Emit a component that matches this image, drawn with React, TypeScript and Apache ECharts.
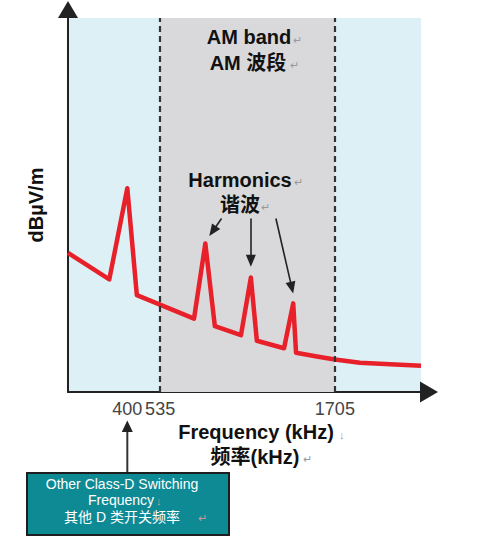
import React, { useEffect, useRef } from 'react';
import * as echarts from 'echarts';

// Schematic axis units (0..100 across the plot), as drawn in the original diagram
const curveX = [0, 11.7, 16.8, 19.5, 35.7, 38.9, 41.6, 49.0, 51.8, 53.5, 61.2, 63.8, 64.6, 70.5, 75.6, 82.7, 91.2, 100];
const curveY = [37.2, 30.1, 54.5, 25.9, 19.6, 39.7, 17.6, 15.2, 30.6, 13.7, 11.7, 23.7, 10.5, 9.5, 8.7, 7.8, 7.4, 7.0];

const tickLabels = ['400', '535', '1705'];
const tickValues = [16.8, 26.1, 75.6];

// AM band edges = 535 and 1705 ticks
const amBandEdges = [tickValues[1], tickValues[2]];

// Harmonic annotation arrows (from label to peak)
const arrowFrom = [[43.5, 46.4], [51.8, 46.4], [58.9, 46.4]];
const arrowTo = [[41.0, 43.0], [51.8, 35.1], [63.4, 27.9]];

const FONT = '"Liberation Sans", Arial, "Noto Sans CJK SC", sans-serif';

const txt = (text: string, x: number, y: number, size: number, weight: string, fill: string, align = 'center') => ({
  type: 'text',
  x,
  y,
  silent: true,
  z: 10,
  style: { text, fontSize: size, fontWeight: weight, fontFamily: FONT, fill, align, verticalAlign: 'middle' },
});

export default function App() {
  const ref = useRef<HTMLDivElement>(null);
  useEffect(() => {
    const chart = echarts.init(ref.current!, null, { renderer: 'svg' });
    const lineData = curveX.map((x, i) => [x, curveY[i]]);
    chart.setOption({
      animation: false,
      backgroundColor: '#ffffff',
      grid: {
        left: 68,
        top: 18,
        width: 353,
        height: 374,
        show: true,
        backgroundColor: '#dcf0f6',
        borderWidth: 0,
        containLabel: false,
        outerBoundsMode: 'none',
      },
      xAxis: {
        type: 'value',
        min: 0,
        max: 100,
        splitLine: { show: false },
        axisTick: { show: false },
        axisLine: {
          show: true,
          onZero: false,
          symbol: ['none', 'triangle'],
          symbolSize: [21, 18],
          symbolOffset: [0, 8],
          lineStyle: { color: '#222', width: 2 },
        },
        axisLabel: {
          show: true,
          customValues: tickValues,
          hideOverlap: false,
          margin: 8,
          fontSize: 18,
          color: '#444',
          fontFamily: FONT,
          formatter: (v: number) => {
            const i = tickValues.findIndex((t) => Math.abs(t - v) < 1e-6);
            return i >= 0 ? tickLabels[i] : '';
          },
        },
      },
      yAxis: {
        type: 'value',
        min: 0,
        max: 100,
        splitLine: { show: false },
        axisTick: { show: false },
        axisLabel: { show: false },
        axisLine: {
          show: true,
          onZero: false,
          symbol: ['none', 'triangle'],
          symbolSize: [20, 17],
          symbolOffset: [0, 8.5],
          lineStyle: { color: '#222', width: 2 },
        },
        name: 'dBµV/m',
        nameLocation: 'middle',
        nameRotate: 90,
        nameGap: 22,
        nameTextStyle: { fontSize: 20, fontWeight: 'bold', color: '#111', fontFamily: FONT },
      },
      series: [
        {
          type: 'line',
          data: lineData,
          symbol: 'none',
          silent: true,
          clip: false,
          lineStyle: { color: '#e8202a', width: 4.5, join: 'round' },
          markArea: {
            silent: true,
            itemStyle: { color: '#d9d9db' },
            data: [[{ xAxis: amBandEdges[0] }, { xAxis: amBandEdges[1] }]],
          },
          markLine: {
            silent: true,
            symbol: ['none', 'none'],
            label: { show: false },
            emphasis: { disabled: true },
            lineStyle: { color: '#333', width: 2.2, type: [6, 4] },
            data: [
              { xAxis: amBandEdges[0] },
              { xAxis: amBandEdges[1] },
              ...arrowFrom.map((f, i) => [
                { coord: f, symbol: 'none', lineStyle: { color: '#222', width: 1.6, type: 'solid' } },
                { coord: arrowTo[i], symbol: 'triangle', symbolSize: [10, 12], lineStyle: { color: '#222', width: 1.6, type: 'solid' } },
              ]),
            ],
          },
        },
      ],
    });

    const ax = chart.convertToPixel({ gridIndex: 0 }, [tickValues[0], 0]) as number[];
    const arrowX = ax[0];
    const mark = (t: string, x: number, y: number, fill = '#999') => txt(t, x, y, 11, 'normal', fill, 'left');

    chart.setOption({
      graphic: [
        txt('AM band', 249, 37, 20, 'bold', '#111'),
        mark('↵', 293, 40),
        txt('AM 波段', 248, 63, 20, 'bold', '#111'),
        mark('↵', 290, 65),
        txt('Harmonics', 240, 180, 20, 'bold', '#111'),
        mark('↵', 294, 182),
        txt('谐波', 240, 205, 20, 'bold', '#111'),
        mark('↵', 261, 207),
        txt('Frequency (kHz)', 256, 432, 20, 'bold', '#111'),
        mark('↓', 339, 435),
        txt('频率(kHz)', 255, 457, 20, 'bold', '#111'),
        mark('↵', 303, 459),
        {
          type: 'line',
          silent: true,
          z: 10,
          shape: { x1: arrowX, y1: 473, x2: arrowX, y2: 430 },
          style: { stroke: '#333', lineWidth: 2 },
        },
        {
          type: 'polygon',
          silent: true,
          z: 10,
          shape: { points: [[arrowX - 5.5, 432], [arrowX + 5.5, 432], [arrowX, 420.5]] },
          style: { fill: '#222' },
        },
        {
          type: 'rect',
          silent: true,
          z: 10,
          shape: { x: 27, y: 473, width: 202, height: 62 },
          style: { fill: '#0e8a95', stroke: '#1e1e1e', lineWidth: 2 },
        },
        txt('Other Class-D Switching', 122, 484, 14, 'normal', '#ffffff'),
        txt('Frequency', 121, 500, 14, 'normal', '#ffffff'),
        mark('↓', 156, 501, '#c99'),
        txt('其他 D 类开关频率', 122, 517, 14, 'normal', '#ffffff'),
        mark('↵', 198, 518, '#c99'),
      ],
    });

    return () => chart.dispose();
  }, []);
  return (
    <div
      ref={ref}
      style={{ position: 'fixed', left: 0, top: 0, width: 483, height: 541, background: '#fff' }}
    />
  );
}
